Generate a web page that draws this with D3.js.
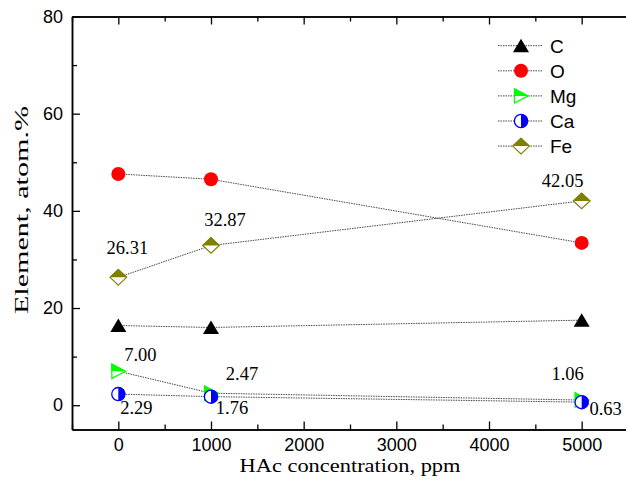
<!DOCTYPE html>
<html><head><meta charset="utf-8">
<script src="https://cdn.jsdelivr.net/npm/d3@7"></script>
<style>body{margin:0;background:#fff;overflow:hidden}</style>
</head><body>
<script>
// ---- data ----
const concentrations = [0, 1000, 5000];
const seriesNames = ["C", "O", "Mg", "Ca", "Fe"];
const C  = [16.4, 16.0, 17.5];
const O  = [47.6, 46.5, 33.4];
const Mg = [7.00, 2.47, 1.06];
const Ca = [2.29, 1.76, 0.63];
const Fe = [26.31, 32.87, 42.05];
const xTicks = [0, 1000, 2000, 3000, 4000, 5000];
const xMinorTicks = [-500, 500, 1500, 2500, 3500, 4500, 5500];
const yTicks = [0, 20, 40, 60, 80];
const yMinorTicks = [10, 30, 50, 70];
const xLabel = "HAc concentration, ppm";
const yLabel = "Element, atom.%";
const labeledSeries = ["Fe", "Mg", "Ca"];

const values = {C, O, Mg, Ca, Fe};
const colors = {C: "#000000", O: "#ff0000", Mg: "#00ff00", Ca: "#0000ff", Fe: "#808000"};
// label offsets (style): [dx, dy] relative to the marker
const labelOffsets = {
  Fe: [[9, -23], [14, -19], [-19, -14]],
  Mg: [[22, -10], [31, -13], [-14, -20]],
  Ca: [[18, 20], [21, 17], [24, 13]]
};

const W = 626, H = 481;
const svg = d3.select("body").append("svg").attr("width", W).attr("height", H)
  .style("font-family", "'Liberation Sans', Arial, sans-serif");

const x = d3.scaleLinear().domain([-500, 5500]).range([72, 628]);
const y = d3.scaleLinear().domain([-5, 80]).range([429.5, 16.5]);
const fmt = d3.format("d");

// ---- axes ----
function styleAxis(g, fs) {
  g.selectAll("path.domain").attr("stroke", "#000").attr("stroke-width", 1.5);
  g.selectAll(".tick line").attr("stroke", "#000").attr("stroke-width", 1.3);
  g.selectAll(".tick text").attr("fill", "#000").style("font-size", fs + "px")
    .style("font-family", "'Liberation Sans', Arial, sans-serif");
}
const gB = svg.append("g").attr("transform", `translate(0,${y(-5)})`)
  .call(d3.axisBottom(x).tickValues(xTicks).tickFormat(fmt).tickSize(-8).tickSizeOuter(0).tickPadding(8.5));
styleAxis(gB, 18);
const gBm = svg.append("g").attr("transform", `translate(0,${y(-5)})`)
  .call(d3.axisBottom(x).tickValues(xMinorTicks).tickSize(-5).tickSizeOuter(0).tickFormat(""));
styleAxis(gBm, 18);
const gT = svg.append("g").attr("transform", `translate(0,${y(80)})`)
  .call(d3.axisTop(x).tickValues(xTicks).tickSize(-8).tickSizeOuter(0).tickFormat(""));
styleAxis(gT, 18);
const gTm = svg.append("g").attr("transform", `translate(0,${y(80)})`)
  .call(d3.axisTop(x).tickValues(xMinorTicks).tickSize(-5).tickSizeOuter(0).tickFormat(""));
styleAxis(gTm, 18);
const gL = svg.append("g").attr("transform", `translate(${x(-500)},0)`)
  .call(d3.axisLeft(y).tickValues(yTicks).tickFormat(fmt).tickSize(-8).tickSizeOuter(0).tickPadding(9));
styleAxis(gL, 18);
const gLm = svg.append("g").attr("transform", `translate(${x(-500)},0)`)
  .call(d3.axisLeft(y).tickValues(yMinorTicks).tickSize(-5).tickSizeOuter(0).tickFormat(""));
styleAxis(gLm, 18);

// axis titles
svg.append("text").attr("x", 350).attr("y", 472).attr("text-anchor", "middle")
  .attr("textLength", 221).attr("lengthAdjust", "spacingAndGlyphs")
  .style("font-family", "'Liberation Serif', 'Times New Roman', serif").style("font-size", "19px")
  .text(xLabel);
svg.append("text").attr("transform", "translate(28,210) rotate(-90)").attr("text-anchor", "middle")
  .attr("textLength", 208).attr("lengthAdjust", "spacingAndGlyphs")
  .style("font-family", "'Liberation Serif', 'Times New Roman', serif").style("font-size", "19.5px")
  .text(yLabel);

// ---- markers ----
function drawMarker(g, name, cx, cy) {
  const col = colors[name];
  const m = g.append("g").attr("transform", `translate(${cx},${cy})`);
  if (name === "C") {
    m.append("path").attr("d", "M-8,6.5L8,6.5L0,-7Z").attr("fill", col);
  } else if (name === "O") {
    m.append("circle").attr("r", 7).attr("fill", col);
  } else if (name === "Mg") {
    m.append("path").attr("d", "M-7,-8L8,0L-7,8Z").attr("fill", "#fff");
    m.append("path").attr("d", "M-7,-8L8,0L-7,0Z").attr("fill", col);
    m.append("path").attr("d", "M-6.5,-7.2L7.2,0L-6.5,7.2Z").attr("fill", "none").attr("stroke", col).attr("stroke-width", 1.2);
  } else if (name === "Ca") {
    m.append("circle").attr("r", 6.6).attr("fill", "#fff").attr("stroke", col).attr("stroke-width", 1.3);
    m.append("path").attr("d", "M0,-7A7,7 0 0 1 0,7Z").attr("fill", col);
  } else if (name === "Fe") {
    m.append("path").attr("d", "M-9,0L0,-8.5L9,0L0,8.5Z").attr("fill", "#fff");
    m.append("path").attr("d", "M-9,0L0,-8.5L9,0Z").attr("fill", col);
    m.append("path").attr("d", "M-8.3,0L0,-7.8L8.3,0L0,7.8Z").attr("fill", "none").attr("stroke", col).attr("stroke-width", 1.2);
  }
}

const lineGen = d3.line().x((d, i) => x(concentrations[i])).y(d => y(d));
const gLines = svg.append("g");
const gMarks = svg.append("g");
seriesNames.forEach(name => {
  gLines.append("path").datum(values[name]).attr("d", lineGen)
    .attr("fill", "none").attr("stroke", "#333").attr("stroke-width", 0.9)
    .attr("stroke-dasharray", "1.5,1");
});
seriesNames.forEach(name => {
  values[name].forEach((v, i) => drawMarker(gMarks, name, x(concentrations[i]), y(v)));
});

// ---- data labels ----
const gLab = svg.append("g").style("font-family", "'Liberation Serif', 'Times New Roman', serif")
  .style("font-size", "18.5px");
labeledSeries.forEach(name => {
  values[name].forEach((v, i) => {
    const [dx, dy] = labelOffsets[name][i];
    gLab.append("text").attr("x", x(concentrations[i]) + dx).attr("y", y(v) + dy)
      .attr("text-anchor", "middle").text(v.toFixed(2));
  });
});

// ---- legend ----
const legend = svg.append("g");
seriesNames.forEach((name, i) => {
  const ly = 45.7 + i * 25.1;
  legend.append("line").attr("x1", 498).attr("x2", 543).attr("y1", ly).attr("y2", ly)
    .attr("stroke", "#333").attr("stroke-width", 0.9).attr("stroke-dasharray", "1.5,1");
  drawMarker(legend, name, 521, ly);
  legend.append("text").attr("x", 550).attr("y", ly + 6.8).style("font-size", "19px").text(name);
});
</script>
</body></html>
